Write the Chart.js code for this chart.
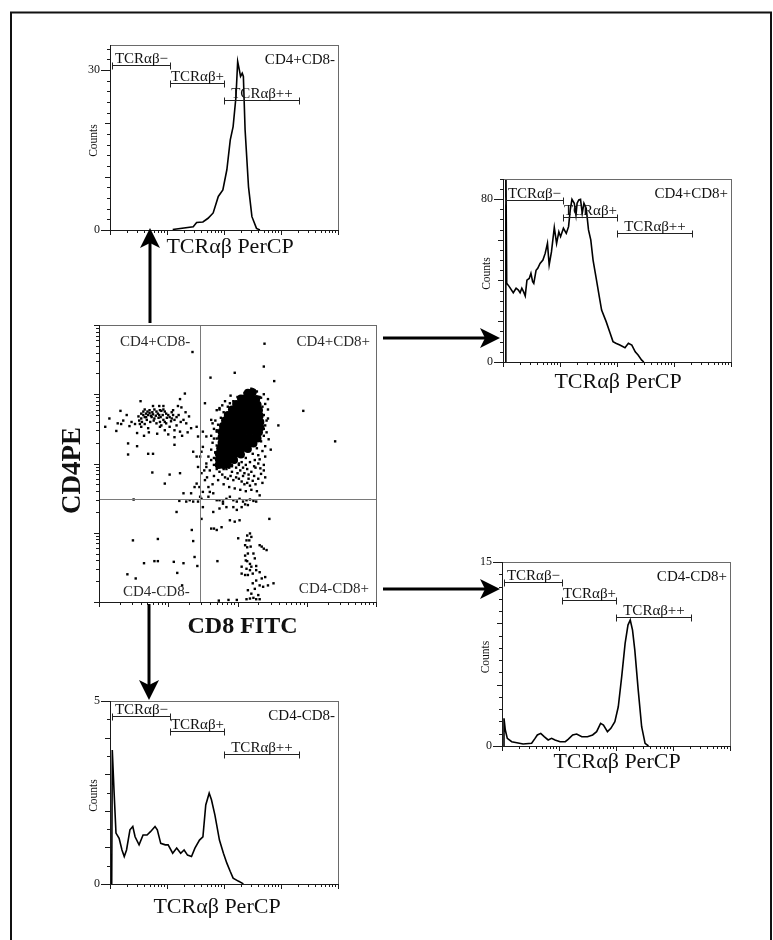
<!DOCTYPE html>
<html>
<head>
<meta charset="utf-8">
<title>CD4 / CD8 / TCRαβ</title>
<script src="https://cdn.jsdelivr.net/npm/chart.js@4.4.1/dist/chart.umd.min.js"></script>
<style>
  body { margin: 0; background: #fff; }
  #page { position: relative; width: 773px; height: 940px; overflow: hidden; background: #fff; }
  #page canvas { position: absolute; }
  #page svg { position: absolute; left: 0; top: 0; }
</style>
</head>
<body>
<div id="page">
  <canvas id="histCD4SP"></canvas>
  <canvas id="histDP"></canvas>
  <canvas id="histCD8SP"></canvas>
  <canvas id="histDN"></canvas>
  <canvas id="dotCD4CD8"></canvas>
  <svg width="773" height="940">
    <g fill="none" stroke="#111" stroke-width="2">
      <path d="M11 940 V12.5 H771 V940"/>
    </g>
    <g stroke="#000" stroke-width="3">
      <line x1="150" y1="323" x2="150" y2="242"/>
      <line x1="383" y1="338" x2="487" y2="338"/>
      <line x1="383" y1="589" x2="487" y2="589"/>
      <line x1="149" y1="604" x2="149" y2="687"/>
    </g>
    <g fill="#000">
      <polygon points="150,228 140,248 150,243 160,248"/>
      <polygon points="500,338 480,328 485,338 480,348"/>
      <polygon points="500,589 480,579 485,589 480,599"/>
      <polygon points="149,700 139,680 149,685 159,680"/>
    </g>
  </svg>
</div>
<script>
// Fluorescence axes are in log decades (0 = 10^0 ... 4 = 10^4)

// TCRαβ PerCP histograms: [decade, counts]
const histCD4SP = [
  [1.10,0.1],[1.46,0.6],[1.52,1.4],[1.63,1.5],[1.72,2.2],[1.81,3.2],[1.90,6.3],[1.98,7.5],
  [2.05,11.3],[2.11,16.9],[2.16,19.4],[2.21,25],[2.24,31.6],[2.27,30],[2.29,28.8],[2.32,29.4],
  [2.34,28.8],[2.37,18.8],[2.43,8.1],[2.49,2.5],[2.57,0.3],[2.63,0]
];
const histDP = [
  [0.04,0],[0.05,100],[0.065,38.6],[0.11,37],[0.18,34],[0.23,36.2],[0.27,35.3],[0.30,34],
  [0.33,36.2],[0.36,34.5],[0.39,32.4],[0.42,40.2],[0.46,41],[0.49,43.5],[0.52,39.4],[0.54,38.6],
  [0.58,45],[0.61,46],[0.65,48.4],[0.70,50],[0.74,53.3],[0.78,58.2],[0.81,47.6],[0.85,54],
  [0.90,66],[0.94,58.2],[0.98,63.9],[1.01,61.5],[1.06,65.6],[1.11,63.1],[1.15,66.4],[1.18,74.6],
  [1.21,79.8],[1.25,77.9],[1.28,72.1],[1.30,77.9],[1.33,79.5],[1.36,79.8],[1.39,73],[1.42,77.9],
  [1.46,75.4],[1.50,64.8],[1.54,59.9],[1.58,50],[1.63,41.9],[1.69,32],[1.73,25.5],[1.81,19.8],
  [1.88,14.1],[1.93,10],[1.98,9.2],[2.05,8.3],[2.14,7],[2.20,9.2],[2.26,8.3],[2.32,5],
  [2.37,3.4],[2.43,1],[2.47,0]
];
const histCD8SP = [
  [0.03,0],[0.035,2.26],[0.058,1.3],[0.093,0.62],[0.17,0.35],[0.26,0.27],[0.37,0.16],[0.52,0.22],
  [0.58,0.62],[0.62,0.9],[0.68,1.03],[0.74,0.76],[0.81,0.49],[0.87,0.62],[0.93,0.49],[1.02,0.35],
  [1.11,0.35],[1.16,0.54],[1.24,0.9],[1.31,0.98],[1.40,0.76],[1.50,0.76],[1.59,0.9],[1.66,1.17],
  [1.73,1.85],[1.78,1.71],[1.85,1.17],[1.91,1.44],[1.98,1.98],[2.04,3.2],[2.10,5.65],[2.16,8.37],
  [2.21,9.86],[2.25,10.27],[2.29,9.45],[2.33,7.82],[2.39,4.56],[2.45,1.57],[2.51,0.22],[2.57,0]
];
const histDN = [
  [0.03,0],[0.04,3.66],[0.07,2.57],[0.105,1.39],[0.16,1.25],[0.21,0.93],[0.25,0.75],[0.29,0.93],
  [0.35,1.48],[0.40,1.57],[0.44,1.29],[0.51,1.07],[0.58,1.34],[0.65,1.34],[0.71,1.43],[0.79,1.57],
  [0.83,1.48],[0.89,1.11],[0.97,1.07],[1.02,1.07],[1.10,0.84],[1.17,0.98],[1.24,0.84],[1.30,0.93],
  [1.36,0.79],[1.43,0.75],[1.49,0.98],[1.57,1.2],[1.63,1.29],[1.68,2.16],[1.74,2.48],[1.78,2.3],
  [1.84,1.89],[1.92,1.2],[1.99,0.84],[2.05,0.57],[2.11,0.34],[2.16,0.16],[2.25,0.08],[2.31,0.03],[2.34,0]
];

// TCRαβ gate boundaries (decades): −, +, ++
const tcrGateEdges = [0.04, 1.06, 2.0, 3.31];
const tcrGateNames = ['TCRαβ−', 'TCRαβ+', 'TCRαβ++'];

// CD4 PE / CD8 FITC dot plot: [CD8 decade, CD4 decade]
const quadrantCuts = { cd8: 1.46, cd4: 1.49 };
const quadrantNames = ['CD4+CD8-', 'CD4+CD8+', 'CD4-CD8-', 'CD4-CD8+'];

const dotsCD4SP = [
  [0.61,2.72],[0.64,2.70],[0.66,2.67],[0.68,2.72],[0.71,2.70],[0.73,2.73],[0.76,2.67],[0.78,2.71],
  [0.80,2.65],[0.83,2.75],[0.85,2.72],[0.88,2.77],[0.90,2.76],[0.93,2.78],[0.95,2.75],[0.97,2.72],
  [1.00,2.70],[1.02,2.67],[1.05,2.65],[1.07,2.70],[1.09,2.63],[1.12,2.67],[0.69,2.63],[0.74,2.60],
  [0.83,2.58],[0.88,2.60],[0.93,2.63],[0.97,2.58],[0.66,2.57],[0.71,2.51],[0.88,2.53],[0.95,2.48],
  [1.02,2.53],[1.09,2.48],[1.17,2.46],[1.22,2.63],[1.26,2.58],[1.33,2.51],[1.07,2.77],[1.14,2.83],
  [1.19,2.81],[0.93,2.83],[0.87,2.83],[0.78,2.83],[0.89,2.67],[0.66,2.78],[0.61,2.65],[0.52,2.57],
  [0.59,2.57],[0.61,2.53],[0.44,2.54],[0.70,2.75],[0.75,2.69],[0.82,2.69],[0.86,2.66],[0.79,2.62],
  [0.92,2.70],[0.98,2.66],[1.04,2.61],[0.62,2.60],[0.57,2.68],[0.90,2.55],[1.12,2.55],[1.28,2.45],
  [1.20,2.40],[0.72,2.45],[0.84,2.43],[1.00,2.42],[0.65,2.40],[0.55,2.44],[1.15,2.70],[1.30,2.68],
  [1.25,2.74],[0.80,2.78],[0.68,2.67],[0.95,2.60],[0.73,2.77],[0.87,2.70],[0.77,2.74],[0.64,2.75],
  [1.05,2.74],[1.18,2.60],[0.58,2.62],[0.47,2.60],[0.35,2.62],[0.27,2.58]
];
const dotsDPCore = [
  [2.15,3.02],[2.22,3.03],
  [2.05,2.94],[2.12,2.95],[2.19,2.94],[2.27,2.93],
  [1.98,2.86],[2.05,2.87],[2.13,2.86],[2.21,2.87],[2.29,2.85],
  [1.92,2.78],[1.99,2.79],[2.07,2.78],[2.15,2.79],[2.23,2.78],[2.31,2.77],
  [1.86,2.70],[1.93,2.71],[2.01,2.70],[2.09,2.70],[2.17,2.71],[2.25,2.70],[2.32,2.69],
  [1.82,2.62],[1.89,2.62],[1.97,2.63],[2.05,2.62],[2.13,2.62],[2.21,2.63],[2.29,2.62],[2.33,2.60],
  [1.79,2.54],[1.87,2.55],[1.95,2.54],[2.03,2.54],[2.11,2.55],[2.19,2.54],[2.27,2.54],[2.33,2.52],
  [1.77,2.46],[1.85,2.46],[1.93,2.47],[2.01,2.46],[2.09,2.46],[2.17,2.47],[2.25,2.46],[2.31,2.45],
  [1.77,2.38],[1.85,2.38],[1.93,2.39],[2.01,2.38],[2.09,2.38],[2.17,2.38],[2.25,2.37],[2.29,2.36],
  [1.77,2.30],[1.85,2.31],[1.93,2.30],[2.01,2.30],[2.09,2.30],[2.17,2.30],[2.23,2.29],
  [1.75,2.22],[1.83,2.22],[1.91,2.23],[1.99,2.22],[2.07,2.22],[2.15,2.21],
  [1.73,2.14],[1.81,2.14],[1.89,2.15],[1.97,2.14],[2.05,2.13],
  [1.73,2.06],[1.81,2.06],[1.89,2.07],[1.95,2.05],
  [1.73,1.98],[1.80,1.98],[1.86,1.99]
];
const dotsDP = [
  [2.36,2.60],[2.38,2.70],[2.36,2.82],[2.34,2.95],[2.28,3.04],[2.20,3.08],[2.10,3.02],[2.00,2.96],
  [1.94,2.90],[1.86,2.82],[1.80,2.74],[1.76,2.66],[1.72,2.56],[1.70,2.46],[1.70,2.36],[1.70,2.26],
  [1.68,2.16],[1.66,2.08],[2.38,2.50],[2.38,2.40],[2.34,2.32],[2.28,2.22],[2.22,2.14],[2.12,2.08],
  [2.02,2.00],[1.92,1.96],[1.80,1.92],[2.40,2.55],[2.42,2.45],[2.44,2.65],[2.30,2.12],[2.25,2.05],
  [2.45,2.35],[2.48,2.20],[2.40,2.25],[1.64,2.30],[1.62,2.40],[1.66,2.50],[1.68,2.62],[1.74,2.78],
  [1.82,2.90],[1.90,2.98],[2.38,3.00],[2.31,2.96],[2.22,3.07],
  [1.62,2.05],[1.66,1.98],[1.70,1.92],[1.74,1.88],[1.78,1.84],[1.82,1.80],[1.86,1.78],[1.90,1.82],
  [1.94,1.76],[1.98,1.80],[2.02,1.78],[2.06,1.74],[2.10,1.70],[2.14,1.72],[2.18,1.68],[2.22,1.75],
  [2.26,1.70],[2.30,1.78],[2.34,1.85],[2.38,1.90],[2.38,1.98],[2.30,2.00],[2.26,1.94],[2.20,1.88],
  [2.16,1.84],[2.10,1.86],[2.04,1.90],[1.98,1.94],[1.92,1.98],[1.86,2.02],[1.80,2.06],[1.74,2.12],
  [1.68,2.16],[1.62,2.20],[1.58,2.10],[1.60,1.90],[1.66,1.82],[1.72,1.76],[1.80,1.70],[1.88,1.66],
  [1.96,1.64],[2.04,1.62],[2.12,1.60],[2.20,1.62],[2.28,1.60],[1.70,2.00],[1.76,1.96],[1.84,1.92],
  [1.92,1.88],[2.00,1.86],[2.08,1.82],[2.16,1.78],[2.24,1.82],[1.78,2.18],[1.84,2.10],[1.90,2.06],
  [1.96,2.02],[2.02,1.98],[2.08,1.94],[2.14,1.92],[1.55,2.00],[1.52,1.90],[1.64,1.70],[1.56,1.80],
  [2.36,1.72],[2.40,1.80],[2.33,1.93],[1.98,2.04],[2.06,2.02],[2.12,1.98],[1.88,1.94],[1.76,2.04],
  [2.18,2.02],[2.24,1.96],[2.32,2.06],[2.40,2.10],[2.36,2.18],[1.66,2.36],[1.64,2.58],[1.78,2.84],
  [2.42,2.62],[2.40,2.86],[2.44,2.78]
];
const dotsMid = [
  [1.41,2.53],[1.50,2.46],[1.55,2.39],[1.43,2.39],[1.62,2.63],[1.70,2.48],[1.36,2.17],[1.41,2.10],
  [1.48,2.17],[1.43,1.95],[1.48,1.86],[1.53,1.76],[1.58,1.66],[1.60,1.59],[1.55,1.95],[1.50,1.59],
  [1.46,1.52],[1.38,1.66],[1.33,1.57],[1.31,1.47],[1.26,1.45],[1.36,1.45],[1.43,1.45],[1.48,1.49],
  [1.58,1.52],[1.65,1.57],[1.70,1.47],[1.74,1.47],[1.79,1.45],[1.84,1.49],[1.89,1.52],[1.94,1.47],
  [1.99,1.45],[2.03,1.49],[2.08,1.45],[2.13,1.47],[2.18,1.48],[2.23,1.46],[2.27,1.45],[2.32,1.54],
  [1.94,1.37],[1.99,1.33],[2.06,1.37],[2.11,1.41],[2.15,1.40],[1.84,1.37],[1.79,1.42],[1.74,1.35],
  [1.65,1.30]
];
const dotsCD8SP = [
  [2.01,0.92],[2.14,0.96],[2.18,0.99],[2.20,0.94],[2.17,0.89],[2.19,0.80],[2.14,0.79],[2.11,0.67],
  [2.12,0.60],[2.14,0.59],[2.18,0.55],[2.20,0.51],[2.27,0.52],[2.32,0.82],[2.35,0.80],[2.38,0.77],
  [2.42,0.75],[2.06,0.41],[2.11,0.39],[2.15,0.39],[2.22,0.41],[2.22,0.27],[2.27,0.31],[2.32,0.24],
  [2.35,0.34],[2.40,0.36],[2.44,0.24],[2.52,0.27],[1.73,0.02],[1.87,0.03],[1.99,0.03],[2.13,0.04],
  [2.18,0.05],[2.23,0.06],[2.27,0.04],[2.32,0.04],[2.13,0.89],[2.11,0.82],[2.23,0.70],[2.25,0.63],
  [2.15,0.70],[2.27,0.46],[2.18,0.46],[2.13,0.48],[2.32,0.43],[2.06,0.51],[2.37,0.22],[2.25,0.19],
  [2.20,0.12],[2.30,0.10],[2.15,0.17]
];
const dotsOther = [
  [1.35,3.61],[1.61,3.24],[1.96,3.31],[2.39,3.73],[2.38,3.40],[2.53,3.19],[1.24,3.01],[1.17,2.93],
  [0.60,2.90],[0.31,2.76],[0.15,2.65],[0.09,2.53],[0.25,2.47],[0.32,2.57],[0.40,2.70],[0.42,2.29],
  [0.42,2.13],[0.55,2.25],[0.71,2.14],[0.78,2.14],[0.77,1.87],[0.95,1.71],[1.02,1.84],[1.09,2.27],
  [1.09,2.38],[1.17,1.86],[1.22,1.57],[1.16,1.46],[1.12,1.30],[0.50,1.48],[0.49,0.89],[0.85,0.91],
  [0.65,0.56],[0.80,0.59],[0.85,0.59],[1.08,0.58],[1.22,0.56],[1.13,0.42],[0.41,0.40],[0.53,0.34],
  [1.20,0.24],[1.34,1.04],[1.36,0.88],[1.38,0.65],[1.42,0.52],[1.48,1.20],[1.50,1.37],[1.45,1.66],
  [1.41,1.71],[1.46,2.10],[1.50,2.24],[1.53,2.87],[1.70,2.77],[1.74,2.80],[1.89,2.87],[2.32,2.96],
  [2.44,2.93],[2.59,2.55],[2.95,2.76],[3.41,2.32],[2.46,1.20],[2.03,1.18],[1.96,1.16],[1.89,1.18],
  [1.77,1.08],[1.70,1.04],[1.66,1.06],[1.62,1.06],[1.71,0.59]
];

const SERIF = '"Liberation Serif", "Times New Roman", serif';

// frame, log/linear ticks, titles, gates and quadrant labels
const flowFrame = {
  id: 'flowFrame',
  afterDatasetsDraw(chart, args, o) {
    const { ctx, chartArea: a, scales: { x, y } } = chart;
    const px = v => Math.round(x.getPixelForValue(v)) + 0.5;
    const py = v => Math.round(y.getPixelForValue(v)) + 0.5;
    ctx.save();
    ctx.lineWidth = 1;

    // quadrant cuts
    if (o.cuts) {
      ctx.strokeStyle = '#7a7a7a';
      ctx.beginPath();
      ctx.moveTo(px(o.cuts.cd8), a.top); ctx.lineTo(px(o.cuts.cd8), a.bottom);
      ctx.moveTo(a.left, py(o.cuts.cd4)); ctx.lineTo(a.right, py(o.cuts.cd4));
      ctx.stroke();
    }

    // box
    ctx.strokeStyle = '#6a6a6a';
    ctx.strokeRect(Math.round(a.left) + 0.5, Math.round(a.top) + 0.5,
      Math.round(a.right - a.left), Math.round(a.bottom - a.top));
    ctx.strokeStyle = '#1a1a1a';
    ctx.beginPath();
    ctx.moveTo(Math.round(a.left) + 0.5, a.top); ctx.lineTo(Math.round(a.left) + 0.5, a.bottom + 0.5);
    ctx.lineTo(a.right + 0.5, Math.round(a.bottom) + 0.5);
    ctx.stroke();

    // log ticks below the x axis
    ctx.beginPath();
    for (let d = 0; d <= 4; d++) {
      for (let k = 1; k < 10; k++) {
        if (d === 4 && k > 1) break;
        const xx = px(d + Math.log10(k));
        ctx.moveTo(xx, a.bottom); ctx.lineTo(xx, a.bottom + (k === 1 ? 5 : 3));
      }
    }
    // y ticks on the left
    if (o.logY) {
      for (let d = 0; d <= 4; d++) {
        for (let k = 1; k < 10; k++) {
          if (d === 4 && k > 1) break;
          const yy = py(d + Math.log10(k));
          ctx.moveTo(a.left, yy); ctx.lineTo(a.left - (k === 1 ? 5 : 3), yy);
        }
      }
    } else {
      const n = Math.round(o.yMax / o.yMinor);
      for (let i = 0; i <= n; i++) {
        const v = i * o.yMinor;
        const major = Math.abs(v / o.yMajor - Math.round(v / o.yMajor)) < 1e-6;
        const labelled = o.yLabels.some(l => Math.abs(l - v) < 1e-6);
        const len = labelled ? 9 : (major ? 5 : 3);
        const yy = py(v);
        ctx.moveTo(a.left, yy); ctx.lineTo(a.left - len, yy);
      }
    }
    ctx.stroke();

    ctx.fillStyle = '#111';
    // y tick labels
    if (o.yLabels) {
      ctx.font = '12px ' + SERIF;
      ctx.textAlign = 'right';
      ctx.textBaseline = 'middle';
      o.yLabels.forEach(v => ctx.fillText(String(v), a.left - 10, y.getPixelForValue(v)));
    }

    // y title
    if (o.yTitle) {
      ctx.save();
      ctx.font = o.yTitleFont;
      ctx.textAlign = 'center';
      ctx.textBaseline = 'alphabetic';
      ctx.translate(a.left - o.yTitleDx, (a.top + a.bottom) / 2 + o.yTitleDy);
      ctx.rotate(-Math.PI / 2);
      ctx.fillText(o.yTitle, 0, 0);
      ctx.restore();
    }

    // x title
    ctx.font = o.xTitleFont;
    ctx.textAlign = 'center';
    ctx.textBaseline = 'alphabetic';
    ctx.fillText(o.xTitle, (a.left + a.right) / 2 + o.xTitleDx, a.bottom + o.xTitleDy);

    // TCRαβ gates
    if (o.gateY) {
      ctx.strokeStyle = '#222';
      ctx.font = '15px ' + SERIF;
      ctx.textAlign = 'center';
      for (let i = 0; i < 3; i++) {
        const x1 = px(tcrGateEdges[i]), x2 = px(tcrGateEdges[i + 1]);
        const gy = Math.round(a.top + o.gateY[i]) + 0.5;
        ctx.beginPath();
        ctx.moveTo(x1, gy); ctx.lineTo(x2, gy);
        ctx.moveTo(x1, gy - 3); ctx.lineTo(x1, gy + 4);
        ctx.moveTo(x2, gy - 3); ctx.lineTo(x2, gy + 4);
        ctx.stroke();
        ctx.fillText(tcrGateNames[i], (x1 + x2) / 2, gy - 3);
      }
    }

    // population name, upper right
    if (o.tag) {
      ctx.font = '15px ' + SERIF;
      ctx.textAlign = 'right';
      ctx.fillText(o.tag, a.right - 3, a.top + 19);
    }

    // quadrant names
    if (o.quadrants) {
      ctx.fillStyle = '#2a2a2a';
      ctx.font = '15px ' + SERIF;
      ctx.textAlign = 'left';
      ctx.fillText(quadrantNames[0], a.left + 21, a.top + 21);
      ctx.fillText(quadrantNames[2], a.left + 24, a.bottom - 6);
      ctx.textAlign = 'right';
      ctx.fillText(quadrantNames[1], a.right - 6, a.top + 21);
      ctx.fillText(quadrantNames[3], a.right - 7, a.bottom - 9);
    }
    ctx.restore();
  }
};

function placeCanvas(id, box, pad) {
  const c = document.getElementById(id);
  c.width = box.w + pad.left + pad.right;
  c.height = box.h + pad.top + pad.bottom;
  c.style.left = (box.x - pad.left) + 'px';
  c.style.top = (box.y - pad.top) + 'px';
  return c;
}

const histPad = { left: 60, right: 10, top: 10, bottom: 45 };

function makeHistogram(id, box, series, frame) {
  const c = placeCanvas(id, box, histPad);
  return new Chart(c, {
    type: 'line',
    data: {
      datasets: [{
        data: series.map(p => ({ x: p[0], y: p[1] })),
        borderColor: '#000',
        borderWidth: 1.6,
        pointRadius: 0,
        tension: 0,
        fill: false
      }]
    },
    options: {
      responsive: false,
      devicePixelRatio: 1,
      animation: false,
      events: [],
      layout: { padding: histPad },
      scales: {
        x: { type: 'linear', min: 0, max: 4, display: false },
        y: { type: 'linear', min: 0, max: frame.yMax, display: false }
      },
      plugins: {
        legend: { display: false },
        tooltip: { enabled: false },
        flowFrame: Object.assign({
          yTitle: 'Counts',
          yTitleFont: '11.5px ' + SERIF,
          yTitleDx: 13,
          yTitleDy: 3,
          xTitle: 'TCRαβ PerCP',
          xTitleFont: '22px ' + SERIF
        }, frame)
      }
    },
    plugins: [flowFrame]
  });
}

makeHistogram('histCD4SP', { x: 110, y: 45, w: 228, h: 185 }, histCD4SP, {
  yMax: 34.7, yMajor: 10, yMinor: 2, yLabels: [0, 30],
  gateY: [20, 38, 55], tag: 'CD4+CD8-', xTitleDx: 6, xTitleDy: 23
});
makeHistogram('histDP', { x: 503, y: 179, w: 228, h: 183 }, histDP, {
  yMax: 89.8, yMajor: 20, yMinor: 5, yLabels: [0, 80],
  gateY: [20.7, 38, 53.7], tag: 'CD4+CD8+', xTitleDx: 1, xTitleDy: 26
});
makeHistogram('histCD8SP', { x: 502, y: 562, w: 228, h: 184 }, histCD8SP, {
  yMax: 15, yMajor: 5, yMinor: 1, yLabels: [0, 15],
  gateY: [20, 38, 54.7], tag: 'CD4-CD8+', xTitleDx: 1, xTitleDy: 22
});
makeHistogram('histDN', { x: 110, y: 701, w: 228, h: 183 }, histDN, {
  yMax: 5, yMajor: 1, yMinor: 0.5, yLabels: [0, 5],
  gateY: [14.7, 29.7, 53], tag: 'CD4-CD8-', xTitleDx: -7, xTitleDy: 29
});

// CD4 PE vs CD8 FITC dot plot
const dotPad = { left: 45, right: 10, top: 10, bottom: 45 };
const dotCanvas = placeCanvas('dotCD4CD8', { x: 99, y: 325, w: 277, h: 277 }, dotPad);
const asXY = arr => arr.map(p => ({ x: p[0], y: p[1] }));
const dotStyle = { pointStyle: 'rect', pointRadius: 1.7, backgroundColor: '#000', borderWidth: 0 };

new Chart(dotCanvas, {
  type: 'scatter',
  data: {
    datasets: [
      Object.assign({ data: asXY(dotsCD4SP) }, dotStyle),
      Object.assign({ data: asXY(dotsDP) }, dotStyle),
      { data: asXY(dotsDPCore), pointStyle: 'circle', pointRadius: 4, backgroundColor: '#000', borderWidth: 0 },
      Object.assign({ data: asXY(dotsMid) }, dotStyle),
      Object.assign({ data: asXY(dotsCD8SP) }, dotStyle),
      Object.assign({ data: asXY(dotsOther) }, dotStyle)
    ]
  },
  options: {
    responsive: false,
    devicePixelRatio: 1,
    animation: false,
    events: [],
    layout: { padding: dotPad },
    scales: {
      x: { type: 'linear', min: 0, max: 4, display: false },
      y: { type: 'linear', min: 0, max: 4, display: false }
    },
    plugins: {
      legend: { display: false },
      tooltip: { enabled: false },
      flowFrame: {
        logY: true,
        cuts: quadrantCuts,
        quadrants: true,
        yTitle: 'CD4PE',
        yTitleFont: 'bold 27px ' + SERIF,
        yTitleDx: 19,
        yTitleDy: 7,
        xTitle: 'CD8 FITC',
        xTitleFont: 'bold 24px ' + SERIF,
        xTitleDx: 5,
        xTitleDy: 31
      }
    }
  },
  plugins: [flowFrame]
});
</script>
</body>
</html>
